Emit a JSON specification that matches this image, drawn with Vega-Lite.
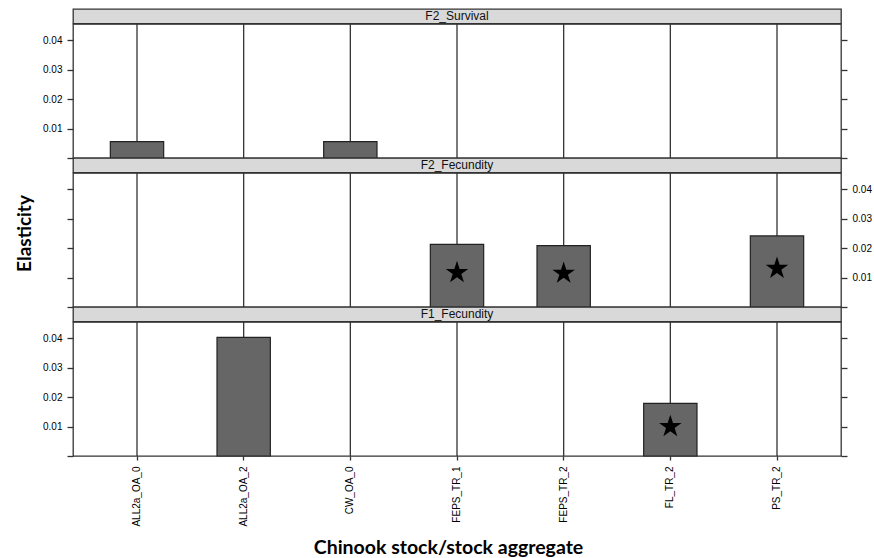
{
  "$schema": "https://vega.github.io/schema/vega-lite/v6.json",
  "background": "white",
  "padding": {"left": 14, "top": 8, "right": 4, "bottom": 4},
  "spacing": 0,
  "bounds": "flush",
  "config": {
    "font": "Liberation Sans",
    "view": {"stroke": "#333", "strokeWidth": 1.3},
    "axis": {"grid": false, "domain": false, "tickColor": "#333", "tickWidth": 1.3, "tickSize": 6, "labelColor": "#000", "labelFontSize": 10, "labelFont": "Liberation Sans", "titleColor": "#000"}
  },
  "datasets": {
    "elast": [
      {"panel": "F2_Survival", "stock": "ALL2a_OA_0", "value": 0.0056, "star": false},
      {"panel": "F2_Survival", "stock": "CW_OA_0", "value": 0.0056, "star": false},
      {"panel": "F2_Fecundity", "stock": "FEPS_TR_1", "value": 0.0213, "star": true},
      {"panel": "F2_Fecundity", "stock": "FEPS_TR_2", "value": 0.0209, "star": true},
      {"panel": "F2_Fecundity", "stock": "PS_TR_2", "value": 0.0242, "star": true},
      {"panel": "F1_Fecundity", "stock": "ALL2a_OA_2", "value": 0.0404, "star": false},
      {"panel": "F1_Fecundity", "stock": "FL_TR_2", "value": 0.0179, "star": true}
    ],
    "stocks": [
      {"stock": "ALL2a_OA_0"}, {"stock": "ALL2a_OA_2"}, {"stock": "CW_OA_0"}, {"stock": "FEPS_TR_1"},
      {"stock": "FEPS_TR_2"}, {"stock": "FL_TR_2"}, {"stock": "PS_TR_2"}
    ]
  },
  "vconcat": [
    {
      "width": 768, "height": 14.5,
      "data": {"values": [{"panel": "F2_Survival"}]},
      "view": {"fill": "#d9d9d9", "stroke": "#333", "strokeWidth": 1.3},
      "mark": {"type": "text", "fontSize": 12, "color": "#111", "font": "Liberation Sans"},
      "encoding": {"text": {"field": "panel"}}
    },
    {
      "width": 768, "height": 134,
      "encoding": {
        "x": {"field": "stock", "type": "nominal", "bandPosition": 0.5,
          "scale": {"type": "band", "domain": ["ALL2a_OA_0", "ALL2a_OA_2", "CW_OA_0", "FEPS_TR_1", "FEPS_TR_2", "FL_TR_2", "PS_TR_2"], "paddingInner": 0.5, "paddingOuter": 0.35},
          "axis": null}
      },
      "layer": [
        {"data": {"name": "stocks"}, "mark": {"type": "rule", "color": "#333", "strokeWidth": 1.3}},
        {"data": {"name": "elast"}, "transform": [{"filter": "datum.panel == 'F2_Survival'"}],
          "mark": {"type": "bar", "color": "#666666", "stroke": "#222", "strokeWidth": 1.2},
          "encoding": {"y": {"field": "value", "type": "quantitative", "scale": {"domain": [0, 0.0456], "nice": false},
            "axis": {"orient": "left", "values": [0, 0.01, 0.02, 0.03, 0.04], "labelExpr": "datum.value == 0 ? '' : format(datum.value, '.2f')", "title": null, "labelPadding": 5}}}},
        {"data": {"name": "elast"}, "transform": [{"filter": "datum.panel == 'F2_Survival' && datum.star"}, {"calculate": "datum.value / 2", "as": "mid"}],
          "mark": {"type": "point", "shape": "M0,-1L0.2245,-0.309L0.951,-0.309L0.363,0.118L0.588,0.809L0,0.382L-0.588,0.809L-0.363,0.118L-0.951,-0.309L-0.2245,-0.309Z", "filled": true, "color": "black", "opacity": 1, "size": 560, "strokeWidth": 0, "yOffset": -3},
          "encoding": {"y": {"field": "mid", "type": "quantitative", "scale": {"domain": [0, 0.0456], "nice": false},
            "axis": {"orient": "right", "values": [0, 0.01, 0.02, 0.03, 0.04], "labels": false, "title": null}}}}
      ],
      "resolve": {"axis": {"y": "independent"}}
    },
    {
      "width": 768, "height": 14.5,
      "data": {"values": [{"panel": "F2_Fecundity"}]},
      "view": {"fill": "#d9d9d9", "stroke": "#333", "strokeWidth": 1.3},
      "mark": {"type": "text", "fontSize": 12, "color": "#111", "font": "Liberation Sans"},
      "encoding": {"text": {"field": "panel"}}
    },
    {
      "width": 768, "height": 134,
      "encoding": {
        "x": {"field": "stock", "type": "nominal", "bandPosition": 0.5,
          "scale": {"type": "band", "domain": ["ALL2a_OA_0", "ALL2a_OA_2", "CW_OA_0", "FEPS_TR_1", "FEPS_TR_2", "FL_TR_2", "PS_TR_2"], "paddingInner": 0.5, "paddingOuter": 0.35},
          "axis": null}
      },
      "layer": [
        {"data": {"name": "stocks"}, "mark": {"type": "rule", "color": "#333", "strokeWidth": 1.3}},
        {"data": {"name": "elast"}, "transform": [{"filter": "datum.panel == 'F2_Fecundity'"}],
          "mark": {"type": "bar", "color": "#666666", "stroke": "#222", "strokeWidth": 1.2},
          "encoding": {"y": {"field": "value", "type": "quantitative", "scale": {"domain": [0, 0.0456], "nice": false},
            "axis": {"orient": "left", "values": [0, 0.01, 0.02, 0.03, 0.04], "labels": false, "title": "Elasticity",
              "titleFont": "Lato", "titleFontSize": 19, "titleFontWeight": "bold", "titleX": -49, "titleY": 60, "titleAngle": 270, "titleAlign": "center", "titleBaseline": "middle"}}}},
        {"data": {"name": "elast"}, "transform": [{"filter": "datum.panel == 'F2_Fecundity' && datum.star"}, {"calculate": "datum.value / 2", "as": "mid"}],
          "mark": {"type": "point", "shape": "M0,-1L0.2245,-0.309L0.951,-0.309L0.363,0.118L0.588,0.809L0,0.382L-0.588,0.809L-0.363,0.118L-0.951,-0.309L-0.2245,-0.309Z", "filled": true, "color": "black", "opacity": 1, "size": 560, "strokeWidth": 0, "yOffset": -3},
          "encoding": {"y": {"field": "mid", "type": "quantitative", "scale": {"domain": [0, 0.0456], "nice": false},
            "axis": {"orient": "right", "values": [0, 0.01, 0.02, 0.03, 0.04], "labelExpr": "datum.value == 0 ? '' : format(datum.value, '.2f')", "title": null, "labelPadding": 5}}}}
      ],
      "resolve": {"axis": {"y": "independent"}}
    },
    {
      "width": 768, "height": 14.5,
      "data": {"values": [{"panel": "F1_Fecundity"}]},
      "view": {"fill": "#d9d9d9", "stroke": "#333", "strokeWidth": 1.3},
      "mark": {"type": "text", "fontSize": 12, "color": "#111", "font": "Liberation Sans"},
      "encoding": {"text": {"field": "panel"}}
    },
    {
      "width": 768, "height": 134,
      "encoding": {
        "x": {"field": "stock", "type": "nominal", "bandPosition": 0.5,
          "scale": {"type": "band", "domain": ["ALL2a_OA_0", "ALL2a_OA_2", "CW_OA_0", "FEPS_TR_1", "FEPS_TR_2", "FL_TR_2", "PS_TR_2"], "paddingInner": 0.5, "paddingOuter": 0.35},
          "axis": {"orient": "bottom", "labelAngle": 270, "labelAlign": "right", "labelBaseline": "middle", "labelFontSize": 10, "tickSize": 4, "labelPadding": 6,
            "title": "Chinook stock/stock aggregate", "titleFont": "Lato", "titleFontWeight": "bold", "titleFontSize": 19.5, "titleX": 375, "titleY": 91, "titleBaseline": "middle", "titleAlign": "center"}}
      },
      "layer": [
        {"data": {"name": "stocks"}, "mark": {"type": "rule", "color": "#333", "strokeWidth": 1.3}},
        {"data": {"name": "elast"}, "transform": [{"filter": "datum.panel == 'F1_Fecundity'"}],
          "mark": {"type": "bar", "color": "#666666", "stroke": "#222", "strokeWidth": 1.2},
          "encoding": {"y": {"field": "value", "type": "quantitative", "scale": {"domain": [0, 0.0456], "nice": false},
            "axis": {"orient": "left", "values": [0, 0.01, 0.02, 0.03, 0.04], "labelExpr": "datum.value == 0 ? '' : format(datum.value, '.2f')", "title": null, "labelPadding": 5}}}},
        {"data": {"name": "elast"}, "transform": [{"filter": "datum.panel == 'F1_Fecundity' && datum.star"}, {"calculate": "datum.value / 2", "as": "mid"}],
          "mark": {"type": "point", "shape": "M0,-1L0.2245,-0.309L0.951,-0.309L0.363,0.118L0.588,0.809L0,0.382L-0.588,0.809L-0.363,0.118L-0.951,-0.309L-0.2245,-0.309Z", "filled": true, "color": "black", "opacity": 1, "size": 560, "strokeWidth": 0, "yOffset": -3},
          "encoding": {"y": {"field": "mid", "type": "quantitative", "scale": {"domain": [0, 0.0456], "nice": false},
            "axis": {"orient": "right", "values": [0, 0.01, 0.02, 0.03, 0.04], "labels": false, "title": null}}}}
      ],
      "resolve": {"axis": {"y": "independent"}}
    }
  ]
}
